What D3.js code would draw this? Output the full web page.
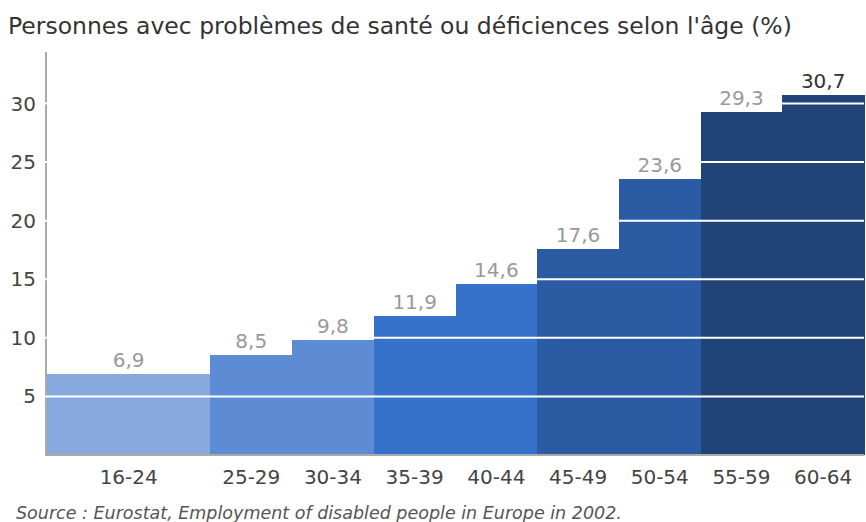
<!DOCTYPE html>
<html>
<head>
<meta charset="utf-8">
<script src="https://cdn.jsdelivr.net/npm/d3@7"></script>
<style>
  body { margin: 0; background: #fff; }
  svg text { font-family: "DejaVu Sans", sans-serif; }
</style>
</head>
<body>
<div id="chart"></div>
<script>
const ageGroups = ['16-24', '25-29', '30-34', '35-39', '40-44', '45-49', '50-54', '55-59', '60-64'];
const shares = [6.9, 8.5, 9.8, 11.9, 14.6, 17.6, 23.6, 29.3, 30.7];
// relative width of each bar (16-24 covers a double span)
const spans = [2, 1, 1, 1, 1, 1, 1, 1, 1];
const barColors = ['#87a9de', '#5e8cd4', '#5e8cd4', '#3672c9', '#3672c9', '#2b5ca3', '#2b5ca3', '#204478', '#204478'];
const yTicks = [5, 10, 15, 20, 25, 30];
const title = "Personnes avec problèmes de santé ou déficiences selon l'âge (%)";
const source = 'Source : Eurostat, Employment of disabled people in Europe in 2002.';

const width = 866;
const height = 522;
const margin = {top: 52, right: 2, bottom: 67, left: 47};

const svg = d3.select('#chart')
  .append('svg')
  .attr('width', width)
  .attr('height', height)
  .attr('viewBox', `0,0,${width},${height}`);

// cumulative start of each bar, in span units
const starts = d3.cumsum([0].concat(spans.slice(0, -1)));
const data = ageGroups.map((g, i) => ({
  group: g, value: shares[i], x0: starts[i], x1: starts[i] + spans[i], color: barColors[i]
}));

const x = d3.scaleLinear()
  .domain([0, d3.sum(spans)])
  .range([margin.left, width - margin.right]);

const y = d3.scaleLinear()
  .domain([0, 34.4])
  .range([height - margin.bottom, margin.top]);

svg.append('text')
  .attr('x', 8)
  .attr('y', 34)
  .attr('font-size', 23.5)
  .attr('fill', '#333')
  .text(title);

svg.append('g')
  .attr('shape-rendering', 'crispEdges')
  .selectAll('rect')
  .data(data)
  .join('rect')
  .attr('x', d => x(d.x0))
  .attr('width', d => x(d.x1) - x(d.x0) + 0.5)
  .attr('y', d => y(d.value))
  .attr('height', d => y(0) - y(d.value))
  .attr('fill', d => d.color);

// axes
svg.append('line')
  .attr('x1', margin.left - 1).attr('x2', margin.left - 1)
  .attr('y1', y.range()[1]).attr('y2', y(0))
  .attr('stroke', '#aaa').attr('stroke-width', 2);
svg.append('line')
  .attr('x1', margin.left - 2).attr('x2', width - margin.right)
  .attr('y1', y(0)).attr('y2', y(0))
  .attr('stroke', '#aaa').attr('stroke-width', 2);

// white grid lines over the bars
svg.append('g')
  .selectAll('line')
  .data(yTicks)
  .join('line')
  .attr('x1', margin.left - 3)
  .attr('x2', width - margin.right)
  .attr('y1', d => y(d))
  .attr('y2', d => y(d))
  .attr('stroke', '#fff')
  .attr('stroke-width', 2);

svg.append('g')
  .selectAll('text')
  .data(yTicks)
  .join('text')
  .attr('x', 36)
  .attr('y', d => y(d))
  .attr('dy', '0.35em')
  .attr('text-anchor', 'end')
  .attr('font-size', 20)
  .attr('fill', '#444')
  .text(d => d);

svg.append('g')
  .selectAll('text')
  .data(data)
  .join('text')
  .attr('x', d => x((d.x0 + d.x1) / 2))
  .attr('y', height - margin.bottom + 29)
  .attr('text-anchor', 'middle')
  .attr('font-size', 20)
  .attr('fill', '#444')
  .text(d => d.group);

const maxVal = d3.max(shares);
svg.append('g')
  .selectAll('text')
  .data(data)
  .join('text')
  .attr('x', d => x((d.x0 + d.x1) / 2))
  .attr('y', d => y(d.value) - 7)
  .attr('text-anchor', 'middle')
  .attr('font-size', 20)
  .attr('fill', d => d.value === maxVal ? '#333' : '#999')
  .text(d => d3.format('.1f')(d.value).replace('.', ','));

svg.append('text')
  .attr('x', 16)
  .attr('y', 519)
  .attr('font-size', 17.5)
  .attr('font-style', 'italic')
  .attr('fill', '#555')
  .text(source);
</script>
</body>
</html>
